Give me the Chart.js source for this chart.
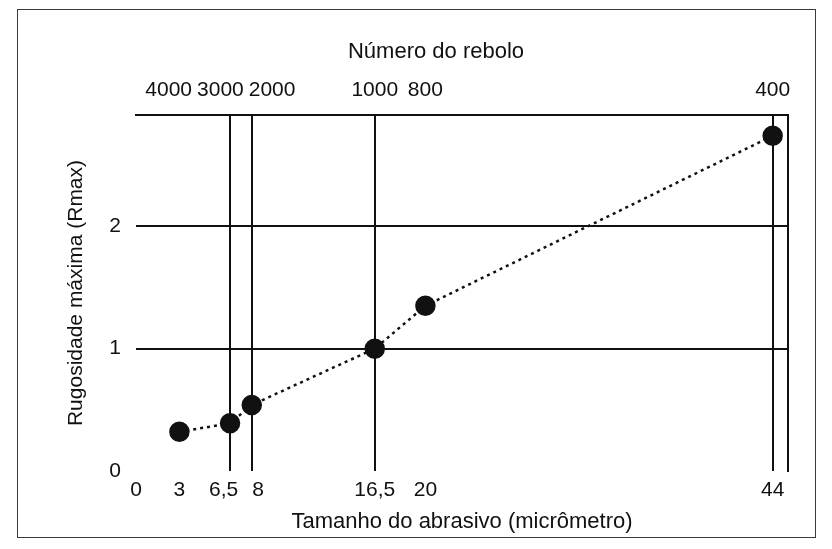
<!DOCTYPE html>
<html>
<head>
<meta charset="utf-8">
<script src="https://cdn.jsdelivr.net/npm/chart.js@4.4.1/dist/chart.umd.min.js"></script>
<style>
  html, body { margin: 0; padding: 0; background: #fff; }
  #wrap { position: relative; width: 832px; height: 549px; }
  #wrap canvas { position: absolute; left: 0; top: 0; }
  #frame { position: absolute; left: 17px; top: 9px; width: 797px; height: 527px;
           border: 1px solid #3a3a3a; pointer-events: none; }
</style>
</head>
<body>
<div id="wrap">
  <canvas id="chart" width="832" height="549"></canvas>
  <div id="frame"></div>
</div>
<script>
// Abrasive grain size (µm) and the matching maximum roughness Rmax
const sizes = [3, 6.5, 8, 16.5, 20, 44];
const roughness = [0.32, 0.39, 0.54, 1.0, 1.35, 2.74];
// Grinding wheel number for each grain size
const wheelNumbers = ['4000', '3000', '2000', '1000', '800', '400'];

// Axis ticks
const xTicks = [0, 3, 6.5, 8, 16.5, 20, 44];
const xTickLabels = ['0', '3', '6,5', '8', '16,5', '20', '44'];
const xGridAt = [6.5, 8, 16.5, 44];
const yTicks = [0, 1, 2];
const yGridAt = [1, 2];

const INK = '#111';
const FAMILY = '"Liberation Sans", Arial, sans-serif';

// Push neighbouring labels apart until none of them overlap
function spreadLabels(items, gap) {
  for (let k = 0; k < 200; k++) {
    for (let i = 0; i < items.length - 1; i++) {
      const a = items[i], b = items[i + 1];
      const need = (a.w + b.w) / 2 + gap;
      const d = b.x - a.x;
      if (d < need) {
        const push = (need - d) / 2;
        a.x -= push;
        b.x += push;
      }
    }
  }
  return items;
}

function labelItems(ctx, scale, values, texts) {
  return values.map((v, i) => ({
    text: texts[i],
    x: scale.getPixelForValue(v),
    w: ctx.measureText(texts[i]).width
  }));
}

// Size labels under the plot and wheel numbers above it, placed from the x scales
const sizeAndWheelLabels = {
  id: 'sizeAndWheelLabels',
  afterDraw(chart) {
    const area = chart.chartArea;
    const ctx = chart.ctx;
    ctx.save();
    ctx.fillStyle = INK;
    ctx.textAlign = 'center';
    ctx.textBaseline = 'middle';

    ctx.font = '22px ' + FAMILY;
    const mid = (area.left + area.right) / 2;
    ctx.fillText('Número do rebolo', mid - 26, area.top - 63);

    ctx.font = '21px ' + FAMILY;
    spreadLabels(labelItems(ctx, chart.scales.x2, sizes, wheelNumbers), 5)
      .forEach(it => ctx.fillText(it.text, it.x, area.top - 25));

    spreadLabels(labelItems(ctx, chart.scales.x, xTicks, xTickLabels), 14)
      .forEach(it => ctx.fillText(it.text, it.x, area.bottom + 19));
    ctx.restore();
  }
};

const X_MIN = 0, X_MAX = 45.06;

new Chart(document.getElementById('chart'), {
  type: 'line',
  data: {
    datasets: [{
      data: sizes.map((x, i) => ({ x, y: roughness[i] })),
      borderColor: INK,
      borderWidth: 2.5,
      borderDash: [3, 4],
      backgroundColor: INK,
      pointBackgroundColor: INK,
      pointBorderColor: INK,
      pointRadius: 9,
      pointHoverRadius: 9,
      pointStyle: 'circle',
      tension: 0,
      fill: false
    }]
  },
  options: {
    responsive: false,
    animation: false,
    devicePixelRatio: 1,
    layout: { padding: 0 },
    plugins: {
      legend: { display: false },
      tooltip: { enabled: false },
      title: { display: false }
    },
    scales: {
      x: {
        type: 'linear',
        position: 'bottom',
        min: X_MIN,
        max: X_MAX,
        afterBuildTicks: s => { s.ticks = xTicks.map(v => ({ value: v })); },
        afterFit: s => { s.height = 78; },
        ticks: { display: false },
        grid: {
          drawTicks: false,
          lineWidth: 2,
          color: c => (c.tick && xGridAt.includes(c.tick.value)) ? INK : 'rgba(0,0,0,0)'
        },
        border: { display: false },
        title: {
          display: true,
          text: 'Tamanho do abrasivo (micrômetro)',
          color: INK,
          font: { family: FAMILY, size: 22 },
          padding: { top: 0, bottom: 14 }
        }
      },
      x2: {
        type: 'linear',
        position: 'top',
        min: X_MIN,
        max: X_MAX,
        afterFit: s => { s.height = 115; },
        ticks: { display: false },
        grid: { display: false, drawTicks: false },
        border: { display: true, color: INK, width: 2 }
      },
      y: {
        type: 'linear',
        position: 'left',
        min: 0,
        max: 2.91,
        afterBuildTicks: s => { s.ticks = yTicks.map(v => ({ value: v })); },
        afterFit: s => { s.width = 136; },
        ticks: {
          padding: 15,
          color: INK,
          font: { family: FAMILY, size: 21 },
          callback: v => String(v)
        },
        grid: {
          drawTicks: false,
          lineWidth: 2,
          color: c => (c.tick && yGridAt.includes(c.tick.value)) ? INK : 'rgba(0,0,0,0)'
        },
        border: { display: false },
        title: {
          display: true,
          text: 'Rugosidade máxima (Rmax)',
          color: INK,
          font: { family: FAMILY, size: 21 },
          padding: { top: 64, bottom: 0 }
        }
      },
      y2: {
        type: 'linear',
        position: 'right',
        min: 0,
        max: 2.91,
        afterFit: s => { s.width = 44; },
        ticks: { display: false },
        grid: { display: false, drawTicks: false },
        border: { display: true, color: INK, width: 2 }
      }
    }
  },
  plugins: [sizeAndWheelLabels]
});
</script>
</body>
</html>
